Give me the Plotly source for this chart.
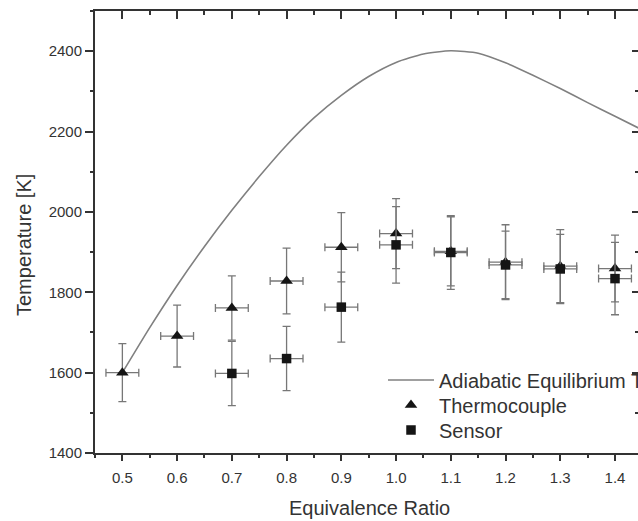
import plotly.graph_objects as go

# Adiabatic equilibrium curve
ad_x = [0.50, 0.55, 0.60, 0.65, 0.70, 0.75, 0.80, 0.85, 0.90, 0.95, 1.00,
        1.05, 1.10, 1.15, 1.20, 1.25, 1.30, 1.35, 1.40, 1.45]
ad_y = [1600, 1712, 1817, 1914, 2004, 2088, 2166, 2234, 2290, 2337, 2372,
        2393, 2401, 2395, 2371, 2340, 2307, 2272, 2238, 2204]

# Thermocouple
tc_x = [0.5, 0.6, 0.7, 0.8, 0.9, 1.0, 1.1, 1.2, 1.3, 1.4]
tc_y = [1600, 1691, 1761, 1828, 1912, 1946, 1902, 1875, 1865, 1859]
tc_err = [72, 77, 80, 82, 86, 87, 86, 93, 91, 83]

# Sensor
se_x = [0.7, 0.8, 0.9, 1.0, 1.1, 1.2, 1.3, 1.4]
se_y = [1598, 1635, 1763, 1918, 1899, 1868, 1858, 1834]
se_err = [80, 80, 87, 95, 92, 84, 86, 90]

x_err = 0.03

x_ticks = [0.5, 0.6, 0.7, 0.8, 0.9, 1.0, 1.1, 1.2, 1.3, 1.4]
x_labels = ["0.5", "0.6", "0.7", "0.8", "0.9", "1.0", "1.1", "1.2", "1.3", "1.4"]
y_ticks = [1400, 1600, 1800, 2000, 2200, 2400]

X_RANGE = [0.45, 1.442]
Y_RANGE = [1400, 2500]

AX = "#333333"
ERR = "#777777"
FONT = "Liberation Sans, Arial, sans-serif"

plot_top, plot_bottom, plot_left, plot_right = 11, 453, 95, 638
ph = plot_bottom - plot_top
pw = plot_right - plot_left


def px(xp):
    return (xp - plot_left) / pw


def py(yp):
    return (plot_bottom - yp) / ph


fig = go.Figure()

fig.add_trace(go.Scatter(
    x=ad_x, y=ad_y, mode="lines", name="Adiabatic Equilibrium Temperature",
    line=dict(color="#808080", width=1.6, shape="spline", smoothing=0.6),
    legend="legend",
))

fig.add_trace(go.Scatter(
    x=tc_x, y=tc_y, mode="markers", name="Thermocouple",
    marker=dict(symbol="triangle-up", size=11, color="#151515"),
    error_y=dict(type="data", array=tc_err, color=ERR, thickness=1.3, width=4),
    error_x=dict(type="constant", value=x_err, color=ERR, thickness=1.3, width=4),
    legend="legend2",
))

fig.add_trace(go.Scatter(
    x=se_x, y=se_y, mode="markers", name="Sensor",
    marker=dict(symbol="square", size=9.5, color="#151515"),
    error_y=dict(type="data", array=se_err, color=ERR, thickness=1.3, width=4),
    error_x=dict(type="constant", value=x_err, color=ERR, thickness=1.3, width=4),
    legend="legend3",
))

# invisible trace to anchor the top/right mirror axes
fig.add_trace(go.Scatter(x=[X_RANGE[0]], y=[Y_RANGE[0]], xaxis="x2", yaxis="y2",
                         mode="markers", marker=dict(opacity=0), showlegend=False,
                         hoverinfo="skip"))

tickfont = dict(family=FONT, size=15, color=AX)


def leg(ycenter):
    return dict(
        x=px(383), y=py(ycenter), xanchor="left", yanchor="middle",
        bgcolor="rgba(0,0,0,0)", borderwidth=0,
        font=dict(family=FONT, size=20, color=AX),
        itemwidth=46,
    )


fig.update_layout(
    width=638, height=521,
    margin=dict(l=plot_left, r=638 - plot_right, t=plot_top, b=521 - plot_bottom,
                autoexpand=False),
    paper_bgcolor="white", plot_bgcolor="white",
    font=dict(family=FONT, color=AX),
    showlegend=True,
    legend=leg(380),
    legend2=leg(405),
    legend3=leg(430),
    xaxis=dict(
        range=X_RANGE, tickvals=x_ticks, ticktext=x_labels,
        showline=True, linecolor=AX, linewidth=2,
        ticks="outside", ticklen=6, tickwidth=2, tickcolor=AX,
        minor=dict(ticks="outside", ticklen=3, tickwidth=1.5, tickcolor=AX, dtick=0.1, tick0=0.45),
        tickfont=tickfont, showgrid=False, zeroline=False, automargin=False,
        ticklabelstandoff=4,
    ),
    yaxis=dict(
        range=Y_RANGE, tickvals=y_ticks,
        showline=True, linecolor=AX, linewidth=2,
        ticks="outside", ticklen=8, tickwidth=2, tickcolor=AX,
        minor=dict(ticks="outside", ticklen=3, tickwidth=1.5, tickcolor=AX, dtick=200, tick0=1500),
        tickfont=tickfont, showgrid=False, zeroline=False, automargin=False,
    ),
    xaxis2=dict(
        range=X_RANGE, overlaying="x", side="top", anchor="y2",
        tickvals=x_ticks, showticklabels=False,
        showline=True, linecolor=AX, linewidth=2,
        ticks="inside", ticklen=8, tickwidth=2, tickcolor=AX,
        minor=dict(ticks="inside", ticklen=4, tickwidth=1.5, tickcolor=AX, dtick=0.1, tick0=0.45),
        showgrid=False, zeroline=False, automargin=False,
    ),
    yaxis2=dict(
        range=Y_RANGE, overlaying="y", side="right", anchor="x2",
        tickvals=y_ticks, showticklabels=False, showline=False,
        ticks="inside", ticklen=6, tickwidth=2, tickcolor=AX,
        minor=dict(ticks="inside", ticklen=3, tickwidth=1.5, tickcolor=AX, dtick=200, tick0=1500),
        showgrid=False, zeroline=False, automargin=False,
    ),
    annotations=[
        dict(text="Equivalence Ratio", x=px(369), y=py(508), xref="paper", yref="paper",
             xanchor="center", yanchor="middle",
             showarrow=False, font=dict(family=FONT, size=20, color=AX)),
        dict(text="Temperature [K]", xref="paper", yref="paper", x=px(24), y=py(245),
             xanchor="center", yanchor="middle",
             showarrow=False, textangle=-90, font=dict(family=FONT, size=20, color=AX)),
    ],
)

fig.write_html("out.html")
